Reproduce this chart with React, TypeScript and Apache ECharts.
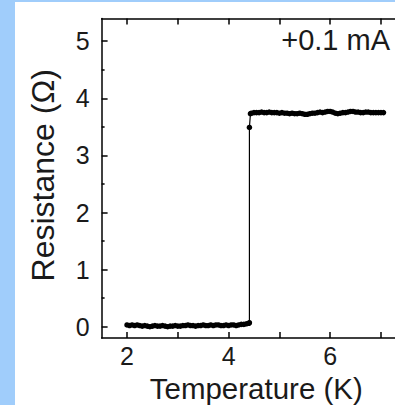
import React, { useEffect, useRef } from "react";
import * as echarts from "echarts";

// Normal-state branch below Tc (temperature K, resistance Ω)
const lowT = [2.0, 2.05, 2.1, 2.15, 2.2, 2.25, 2.3, 2.35, 2.4, 2.45, 2.5, 2.55, 2.6, 2.65, 2.7, 2.75, 2.8, 2.85, 2.9, 2.95, 3.0, 3.05, 3.1, 3.15, 3.2, 3.25, 3.3, 3.35, 3.4, 3.45, 3.5, 3.55, 3.6, 3.65, 3.7, 3.75, 3.8, 3.85, 3.9, 3.95, 4.0, 4.05, 4.1, 4.15, 4.2, 4.25, 4.3, 4.35, 4.4];
const lowR = [0.03, 0.02, 0.03, 0.02, 0.03, 0.02, 0.01, 0.02, 0.01, 0.0, 0.01, 0.02, 0.01, 0.01, 0.02, 0.01, 0.0, 0.01, 0.01, 0.02, 0.01, 0.01, 0.02, 0.02, 0.03, 0.02, 0.02, 0.01, 0.02, 0.02, 0.03, 0.02, 0.02, 0.03, 0.02, 0.03, 0.03, 0.02, 0.02, 0.03, 0.02, 0.03, 0.03, 0.02, 0.03, 0.04, 0.04, 0.05, 0.06];

// Transition
const jumpT = [4.41, 4.41, 4.43];
const jumpR = [0.07, 3.49, 3.73];

// Branch above Tc
const highT = [4.45, 4.5, 4.55, 4.6, 4.65, 4.7, 4.75, 4.8, 4.85, 4.9, 4.95, 5.0, 5.05, 5.1, 5.15, 5.2, 5.25, 5.3, 5.35, 5.4, 5.45, 5.5, 5.55, 5.6, 5.65, 5.7, 5.75, 5.8, 5.85, 5.9, 5.95, 6.0, 6.05, 6.1, 6.15, 6.2, 6.25, 6.3, 6.35, 6.4, 6.45, 6.5, 6.55, 6.6, 6.65, 6.7, 6.75, 6.8, 6.85, 6.9, 6.95, 7.0, 7.05];
const highR = [3.74, 3.75, 3.75, 3.75, 3.76, 3.75, 3.75, 3.76, 3.75, 3.75, 3.75, 3.74, 3.75, 3.74, 3.74, 3.73, 3.74, 3.73, 3.73, 3.74, 3.73, 3.72, 3.72, 3.73, 3.74, 3.74, 3.75, 3.76, 3.75, 3.76, 3.77, 3.77, 3.76, 3.74, 3.73, 3.74, 3.75, 3.75, 3.76, 3.77, 3.77, 3.76, 3.76, 3.75, 3.75, 3.76, 3.76, 3.75, 3.75, 3.75, 3.75, 3.75, 3.75];

// Ticks and labels
const xTicks = [2, 3, 4, 5, 6, 7];
const xLabels = [2, 4, 6];
const yTicks = [0, 1, 2, 3, 4, 5];
const yMinorTicks = [0.5, 1.5, 2.5, 3.5, 4.5];

const xTitle = "Temperature (K)";
const yTitle = "Resistance (Ω)";
const annotation = "+0.1 mA";

const FONT = "'Liberation Sans', Arial, Helvetica, sans-serif";
const TXT = "#1a1a1a";

export default function App() {
  const ref = useRef<HTMLDivElement>(null);

  useEffect(() => {
    if (!ref.current) return;
    const chart = echarts.init(ref.current, undefined, { renderer: "svg" });
    const temps = [...lowT, ...jumpT, ...highT];
    const res = [...lowR, ...jumpR, ...highR];
    const data = temps.map((t, i) => [t, res[i]]);

    const axisLine = { show: true, onZero: false, lineStyle: { color: "#000", width: 1.5 } };
    const tickStyle = { color: "#000", width: 1.5 };
    const X_MIN = 1.5, X_MAX = 7.276, Y_MIN = -0.2, Y_MAX = 5.4;

    chart.setOption({
      animation: false,
      backgroundColor: "#ffffff",
      grid: { left: 86.6, top: 16.4, right: 0, bottom: 66.9, containLabel: false, outerBoundsMode: "none" },
      xAxis: [
        {
          type: "value", min: X_MIN, max: X_MAX, position: "bottom", axisLine,
          axisTick: { show: true, inside: true, length: 6, lineStyle: tickStyle, customValues: xTicks },
          axisLabel: { show: true, margin: 5, fontSize: 25, fontFamily: FONT, color: TXT, customValues: xLabels },
          splitLine: { show: false },
          name: xTitle, nameLocation: "middle", nameGap: 17,
          nameTextStyle: { fontSize: 29.5, fontFamily: FONT, color: TXT, padding: [0, 0, 0, 16] },
        },
        {
          type: "value", min: X_MIN, max: X_MAX, position: "top", axisLine,
          axisTick: { show: true, inside: true, length: 6, lineStyle: tickStyle, customValues: xTicks },
          axisLabel: { show: false }, splitLine: { show: false },
        },
      ],
      yAxis: [
        {
          type: "value", min: Y_MIN, max: Y_MAX, position: "left", axisLine,
          axisTick: { show: true, inside: true, length: 6, lineStyle: tickStyle, customValues: yTicks },
          axisLabel: { show: true, margin: 12, fontSize: 25, fontFamily: FONT, color: TXT, customValues: yTicks },
          splitLine: { show: false },
          name: yTitle, nameLocation: "middle", nameGap: 43,
          nameTextStyle: { fontSize: 32, fontFamily: FONT, color: TXT, padding: [0, 0, 0, 6] },
        },
        {
          type: "value", min: Y_MIN, max: Y_MAX, position: "left", offset: 0,
          axisLine: { show: false },
          axisTick: { show: true, inside: true, length: 3, lineStyle: tickStyle, customValues: yMinorTicks },
          axisLabel: { show: false }, splitLine: { show: false },
        },
      ],
      graphic: [
        { type: "text", right: 5, top: 23, style: { text: annotation, fontSize: 29, fontFamily: FONT, fill: TXT } },
      ],
      series: [
        {
          type: "line", xAxisIndex: 0, yAxisIndex: 0, data,
          symbol: "circle", symbolSize: 5.5, showAllSymbol: true,
          lineStyle: { color: "#000", width: 1.2 }, itemStyle: { color: "#000" },
        },
      ],
    });
    return () => chart.dispose();
  }, []);

  return (
    <div style={{ position: "absolute", left: 0, top: 0, width: 395, height: 405, background: "#a0cdfb", overflow: "hidden" }}>
      <div ref={ref} style={{ position: "absolute", left: 15, top: 2, width: 380, height: 403 }} />
    </div>
  );
}
